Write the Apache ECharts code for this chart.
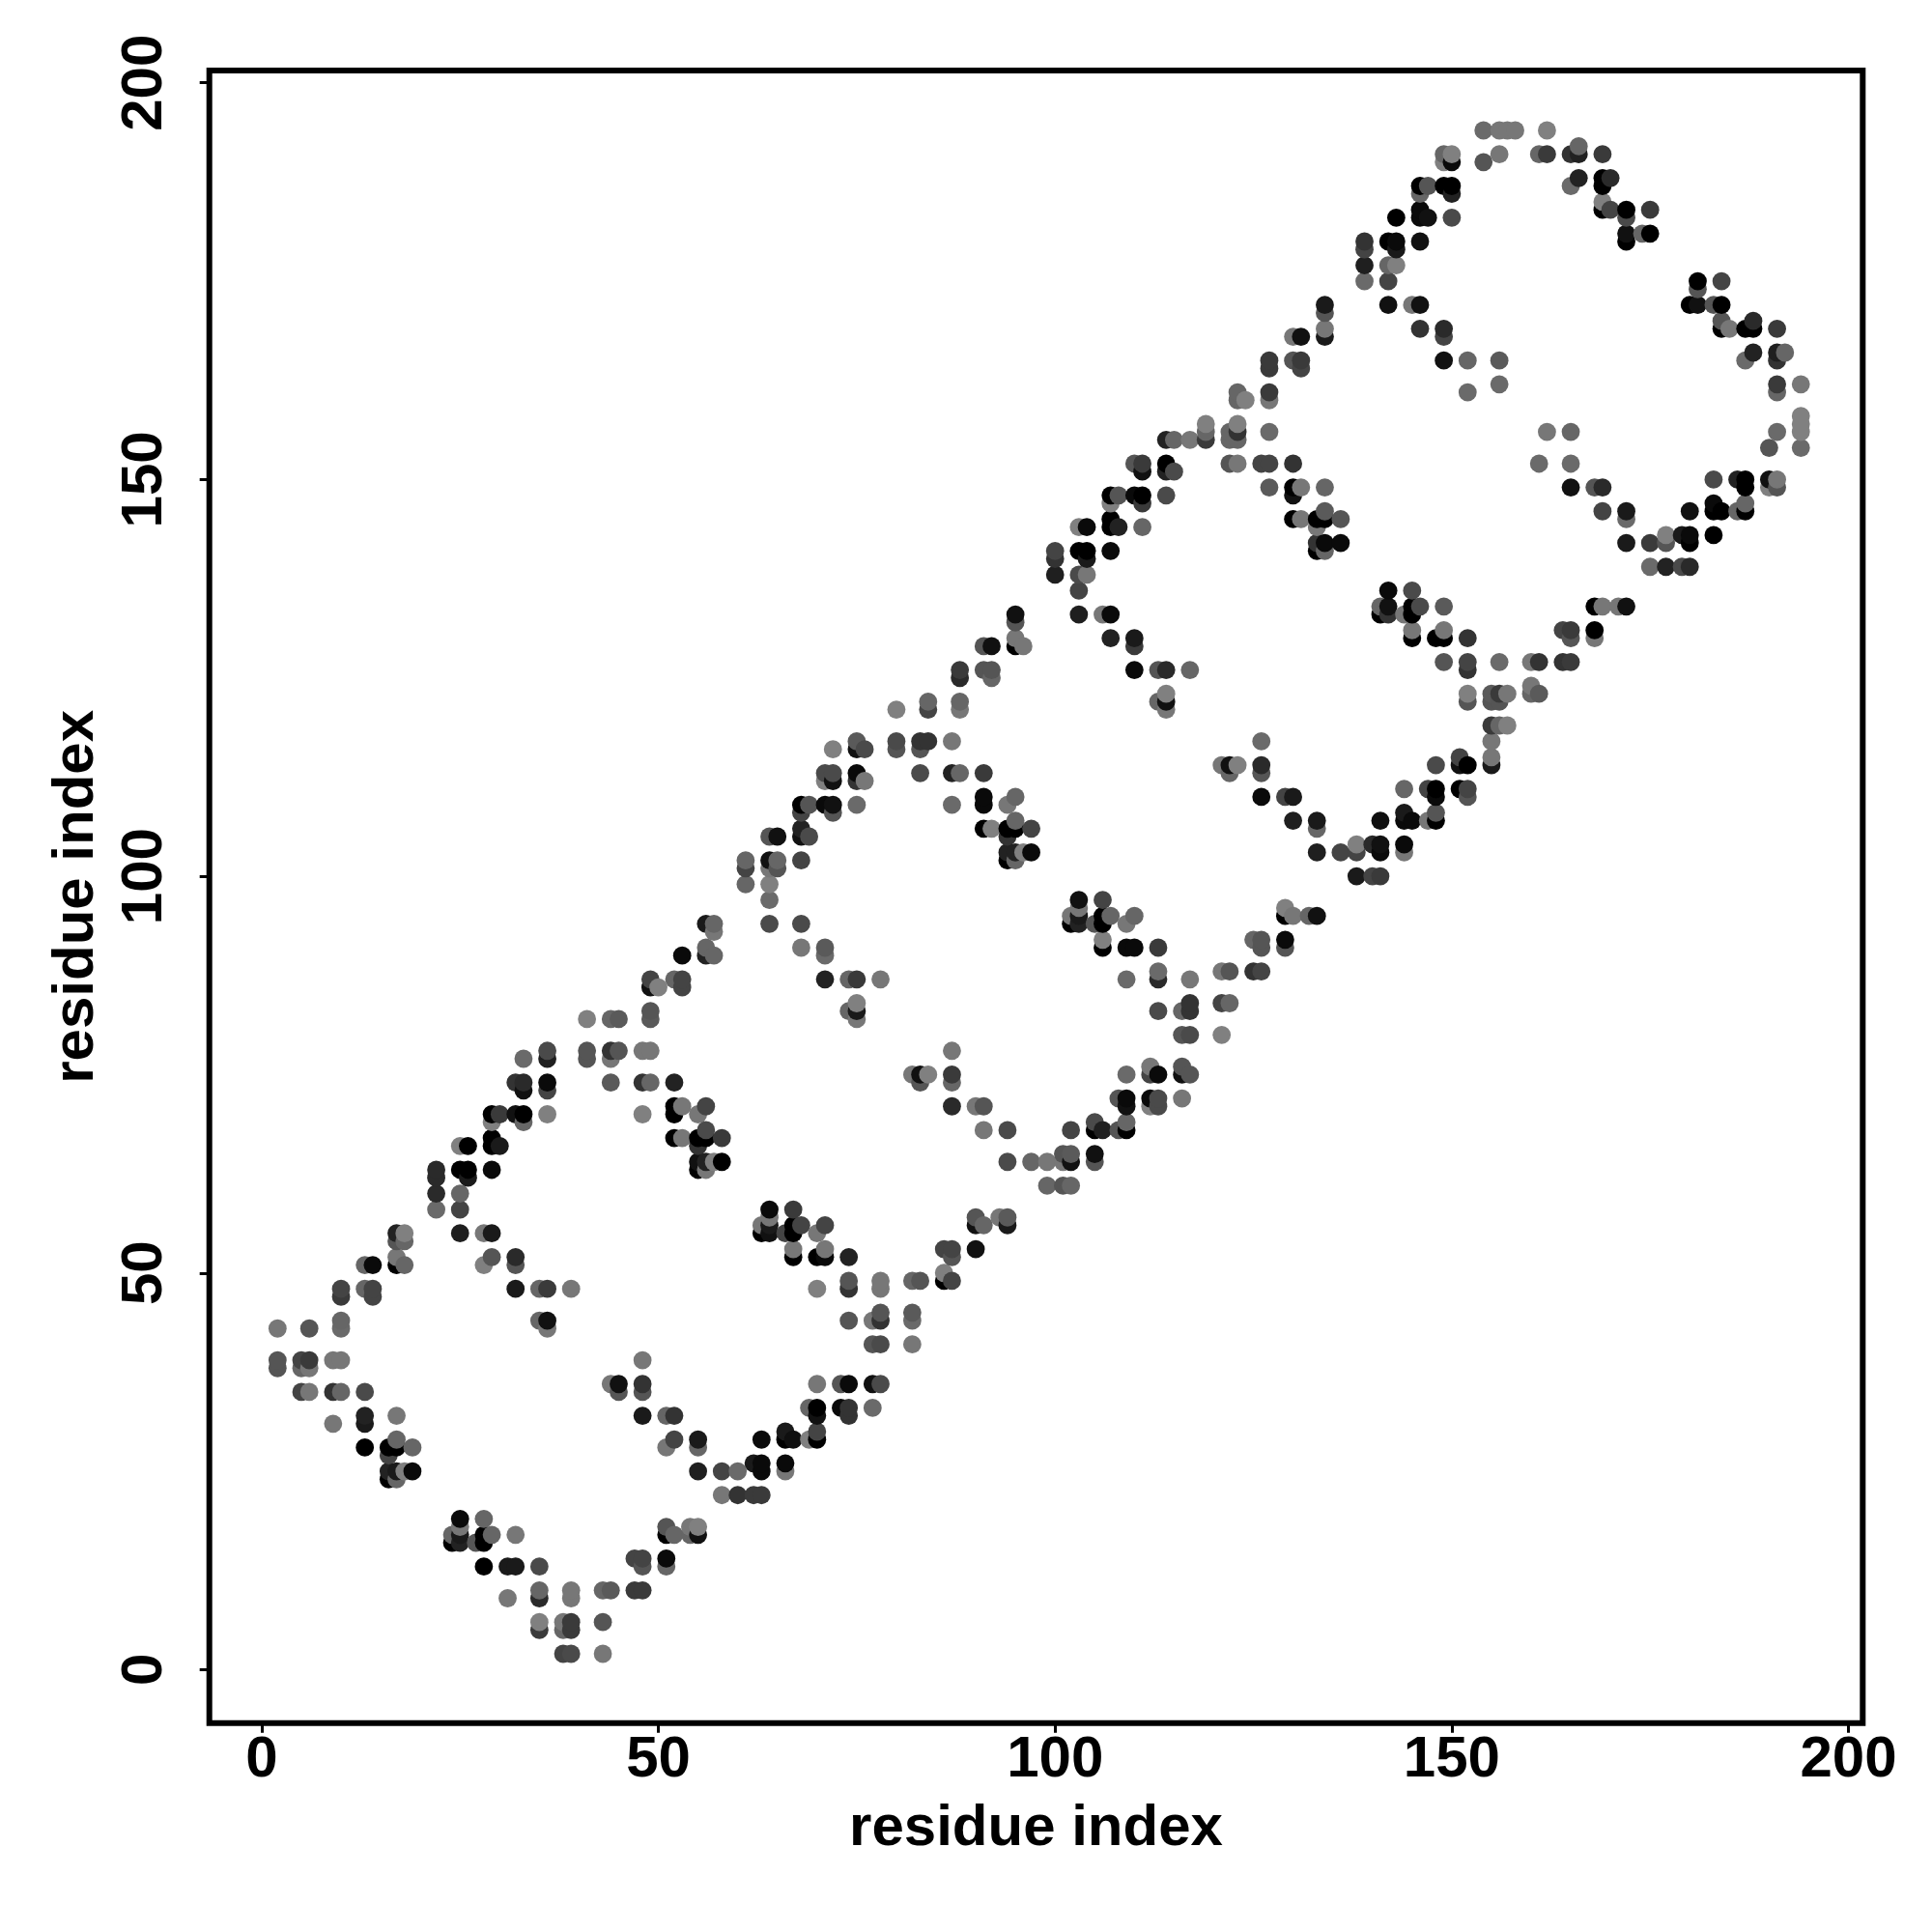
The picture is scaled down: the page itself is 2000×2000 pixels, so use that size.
<!DOCTYPE html>
<html>
<head>
<meta charset="utf-8">
<style>html,body{margin:0;padding:0;background:#fff}#c{width:2000px;height:2000px}</style>
<script src="https://cdn.jsdelivr.net/npm/echarts@6/dist/echarts.min.js"></script>
</head>
<body>
<div id="c"></div>
<script>
// Each contact: [residue x, residue y, grey level of the dot]
const contactsA = [
[2,43,119],[2,39,85],[2,38,85],[5,39,68],[5,38,102],[5,35,68],[6,43,85],[6,39,58],[6,38,119],[6,35,119],
[9,39,119],[9,35,51],[9,31,119],[10,48,68],[10,47,58],[10,44,102],[10,43,106],[10,39,119],[10,35,102],
[13,51,102],[13,48,102],[13,35,74],[13,32,34],[13,31,26],[13,28,0],[14,51,10],[14,48,68],[14,47,68],
[16,28,0],[16,27,68],[16,25,34],[16,24,0],[17,55,34],[17,54,85],[17,52,119],[17,51,0],[17,32,119],[17,29,102],[17,28,0],[17,25,26],[17,24,102],
[18,55,128],[18,54,102],[18,51,102],[18,25,128],[19,28,102],[19,25,10],
[22,63,42],[22,62,42],[22,60,42],[22,58,106],[24,17,102],[24,16,0],
[25,66,128],[25,63,0],[25,60,102],[25,58,68],[25,55,31],[25,19,10],[25,18,119],[25,17,26],[25,16,34],
[26,66,0],[26,63,0],[26,62,26],[27,16,85],[28,55,119],[28,51,128],[28,19,102],[28,17,0],[28,16,0],[28,13,0],
[29,70,0],[29,69,128],[29,67,0],[29,66,0],[29,63,10],[29,55,26],[29,52,85],[29,17,102],[30,70,58],[30,66,26]
];
const contactsB = [
[31,13,26],[31,9,119],[32,74,51],[32,70,17],[32,52,42],[32,51,85],[32,48,26],[32,17,119],[32,13,26],
[33,77,106],[33,74,42],[33,73,17],[33,70,0],[33,69,102],[35,48,102],[35,44,102],[35,13,74],[35,10,102],[35,9,42],[35,6,128],[35,5,58],
[36,78,74],[36,77,31],[36,74,10],[36,73,68],[36,70,128],[36,48,58],[36,44,17],[36,43,119],
[38,6,119],[38,5,102],[38,2,68],[39,48,119],[39,10,119],[39,9,119],[39,6,58],[39,5,58],[39,2,74],
[41,82,128],[41,78,85],[41,77,85],[43,10,102],[43,6,85],[43,2,119],[44,82,102],[44,78,51],[44,77,119],[44,74,90],[44,36,119],[44,10,90],
[45,82,90],[45,78,85],[45,36,17],[45,35,85],[47,14,68],[47,10,58],[48,78,119],[48,74,51],[48,70,128],[48,39,119],[48,36,51],[48,35,85],[48,32,26],[48,14,68],[48,13,85],[48,10,58],
[49,87,68],[49,86,17],[49,83,85],[49,82,90],[49,78,119],[49,74,102],[50,86,128],
[51,32,102],[51,28,119],[51,18,85],[51,17,0],[51,14,10],[51,13,102],
[52,87,102],[52,74,34],[52,71,0],[52,70,0],[52,67,0],[52,32,51],[52,29,68],[52,17,102],
[53,90,10],[53,87,68],[53,86,68],[53,71,119],[53,67,119],[54,18,119],[54,17,102],
[55,70,119],[55,67,0],[55,66,51],[55,64,17],[55,63,0],[55,29,26],[55,28,102],[55,25,31],[55,18,128],[55,17,17],
[56,94,26],[56,91,102],[56,90,34],[56,71,68],[56,68,74],[56,67,0],[56,64,34],[56,63,119],
[57,94,102],[57,93,119],[57,90,102],[57,64,128],[58,67,58],[58,64,0],[58,25,68],[58,22,119],[60,25,106],[60,22,51]
];
const contactsC = [
[61,102,102],[61,101,68],[61,99,102],[62,26,26],[62,22,58],[63,56,119],[63,55,0],[63,29,10],[63,26,10],[63,25,10],[63,22,58],
[64,105,85],[64,102,17],[64,101,119],[64,99,128],[64,97,106],[64,94,74],[64,58,10],[64,57,119],[64,56,26],[64,55,17],
[65,105,17],[65,102,102],[65,101,85],[66,55,68],[66,30,26],[66,29,0],[66,26,10],[66,25,119],
[67,58,58],[67,56,0],[67,55,0],[67,53,119],[67,52,0],[67,29,15],
[68,109,0],[68,108,68],[68,106,34],[68,105,17],[68,102,68],[68,94,74],[68,91,119],[68,56,68],
[69,109,85],[69,105,74],[69,33,102],[69,29,128],[70,55,119],[70,52,0],[70,48,128],[70,36,119],[70,33,0],[70,32,17],[70,30,68],[70,29,0],
[71,113,74],[71,112,128],[71,109,10],[71,91,90],[71,90,106],[71,87,34],[71,56,68],[71,53,119],[71,52,10],
[72,116,128],[72,113,74],[72,112,17],[72,109,17],[72,108,85],[73,36,85],[73,33,10],
[74,87,102],[74,83,102],[74,52,34],[74,49,85],[74,48,51],[74,44,85],[74,36,10],[74,33,51],[74,32,51],
[75,117,90],[75,116,17],[75,113,10],[75,112,51],[75,109,106],[75,87,58],[75,84,128],[75,83,26],[75,82,119],[76,116,74],[76,112,119],
[77,44,119],[77,41,85],[77,36,17],[77,33,106],[78,87,119],[78,49,119],[78,48,119],[78,45,85],[78,44,51],[78,41,74],[78,36,74],
[80,121,128],[80,117,74],[80,116,85],[82,75,119],[82,49,102],[82,45,90],[82,44,106],[82,41,119],
[83,117,51],[83,116,85],[83,113,74],[83,75,17],[83,74,85],[83,49,85],[84,122,102],[84,121,68],[84,117,51],[84,75,128],
[86,53,68],[86,50,128],[86,49,0],[87,117,119],[87,113,34],[87,109,106],[87,78,119],[87,75,58],[87,74,102],[87,71,42],[87,53,68],[87,52,85],[87,49,68],
[88,126,58],[88,125,42],[88,122,102],[88,121,119],[88,113,102],[90,71,119],[90,57,85],[90,56,17],[90,53,17]
];
const contactsD = [
[91,129,85],[91,126,85],[91,113,58],[91,110,10],[91,109,10],[91,106,0],[91,71,85],[91,68,119],[91,56,102],
[92,129,17],[92,126,85],[92,125,102],[92,106,128],[93,57,119],
[94,109,119],[94,106,0],[94,105,51],[94,103,34],[94,102,0],[94,68,74],[94,64,74],[94,57,90],[94,56,26],
[95,133,17],[95,132,85],[95,130,119],[95,129,0],[95,110,102],[95,107,102],[95,106,0],[95,103,34],[95,102,102],
[96,129,119],[96,103,128],[97,106,68],[97,103,10],[97,64,102],[99,64,119],[99,61,102],
[100,141,68],[100,140,51],[100,138,31],[101,65,85],[101,64,119],[101,61,85],[102,95,119],[102,94,0],[102,68,68],[102,65,90],[102,64,17],[102,61,102],
[103,144,128],[103,141,0],[103,138,74],[103,136,68],[103,133,31],[103,97,17],[103,96,119],[103,95,26],[103,94,34],
[104,144,10],[104,141,0],[104,140,26],[104,138,119],[105,94,85],[105,69,74],[105,68,0],[105,65,17],[105,64,85],
[106,133,119],[106,97,68],[106,95,0],[106,94,0],[106,92,128],[106,91,0],[106,68,31],
[107,148,0],[107,147,128],[107,145,0],[107,144,0],[107,141,10],[107,133,10],[107,130,34],[107,95,102],
[108,148,85],[108,144,34],[108,72,85],[108,68,85],[109,94,119],[109,91,10],[109,87,106],[109,75,106],[109,72,10],[109,71,17],[109,69,102],[109,68,0],
[110,152,85],[110,148,10],[110,130,26],[110,129,58],[110,126,10],[110,95,102],[110,91,10],
[111,152,58],[111,151,17],[111,148,0],[111,147,58],[111,144,102],[112,76,119],[112,75,68],[112,72,10],[112,71,128],
[113,126,85],[113,122,102],[113,91,58],[113,88,106],[113,87,42],[113,83,74],[113,75,10],[113,72,74],[113,71,74],
[114,155,34],[114,152,0],[114,151,34],[114,148,74],[114,126,42],[114,123,128],[114,122,17],[114,121,119],[115,155,102],[115,151,74],
[116,83,102],[116,80,85],[116,76,85],[116,75,17],[116,72,119],[117,155,119],[117,126,102],[117,87,119],[117,84,51],[117,83,51],[117,80,74],[117,75,85],
[119,157,128],[119,156,102],[119,155,58]
];
const contactsE = [
[121,114,119],[121,88,119],[121,84,68],[121,80,128],[122,156,102],[122,155,102],[122,152,85],[122,114,17],[122,113,102],[122,88,85],[122,84,102],
[123,161,102],[123,160,102],[123,157,128],[123,156,51],[123,155,102],[123,152,119],[123,114,128],[124,160,128],[125,92,102],[125,88,51],
[126,152,68],[126,117,106],[126,114,42],[126,113,85],[126,110,10],[126,92,85],[126,91,85],[126,88,68],
[127,165,58],[127,164,58],[127,161,58],[127,160,119],[127,156,106],[127,152,68],[127,149,90],
[129,110,68],[129,96,128],[129,95,0],[129,92,10],[129,91,85],[130,168,119],[130,165,85],[130,152,51],[130,149,0],[130,148,17],[130,145,0],[130,110,26],[130,107,31],[130,95,119],
[131,168,17],[131,165,58],[131,164,68],[131,149,119],[131,145,119],[132,95,102],
[133,145,0],[133,144,119],[133,142,51],[133,141,0],[133,107,26],[133,106,102],[133,103,31],[133,95,17],
[134,172,26],[134,171,85],[134,169,119],[134,168,26],[134,149,102],[134,146,90],[134,145,0],[134,142,10],[134,141,102],[136,145,85],[136,142,10],[136,103,68],
[138,104,128],[138,103,68],[138,100,26],[139,180,51],[139,179,68],[139,177,31],[139,175,106],[140,104,42],[140,100,68],
[141,134,102],[141,133,0],[141,107,15],[141,104,17],[141,103,10],[141,100,58],
[142,180,0],[142,177,102],[142,175,68],[142,172,17],[142,136,10],[142,134,17],[142,133,51],
[143,183,0],[143,180,10],[143,179,26],[143,177,128],[144,133,119],[144,111,102],[144,108,26],[144,107,10],[144,104,10],[144,103,119],
[145,172,119],[145,136,74],[145,134,0],[145,133,0],[145,131,119],[145,130,0],[145,107,10],
[146,187,0],[146,186,102],[146,184,10],[146,183,10],[146,180,17],[146,172,17],[146,169,51],[146,134,74],
[147,187,85],[147,183,17],[147,111,68],[147,107,119],[148,130,0],[148,114,74],[148,111,0],[148,110,10],[148,108,85],[148,107,0],
[149,191,102],[149,190,128],[149,187,0],[149,169,42],[149,168,68],[149,165,17],[149,134,90],[149,131,119],[149,130,0],[149,127,85],
[150,191,128],[150,190,10],[150,187,0],[150,186,34],[150,183,74]
];
const contactsF = [
[151,115,68],[151,114,17],[151,111,0],[152,165,102],[152,161,106],[152,130,51],[152,127,68],[152,126,51],[152,123,128],[152,122,85],[152,114,0],[152,111,68],[152,110,85],
[154,194,106],[154,190,85],[155,123,90],[155,122,85],[155,119,58],[155,117,119],[155,115,119],[155,114,26],
[156,194,119],[156,191,119],[156,165,90],[156,162,106],[156,127,106],[156,123,58],[156,122,85],[156,119,102],
[157,194,119],[157,123,119],[157,119,128],[158,194,119],[160,127,119],[160,124,119],[160,123,102],
[161,191,102],[161,152,106],[161,127,51],[161,123,90],[162,194,128],[162,191,58],[162,156,119],[164,131,68],[164,127,51],
[165,191,51],[165,187,106],[165,156,102],[165,152,106],[165,149,17],[165,131,58],[165,130,85],[165,127,58],
[166,192,102],[166,191,34],[166,188,34],[168,149,85],[168,134,0],[168,131,0],[168,130,119],
[169,191,58],[169,188,0],[169,187,0],[169,185,128],[169,184,0],[169,149,42],[169,146,68],[169,134,119],
[170,188,42],[170,184,68],[171,134,119],[172,184,0],[172,183,74],[172,181,17],[172,180,0],[172,146,26],[172,145,106],[172,142,26],[172,134,17],
[174,181,102],[175,184,58],[175,181,0],[175,142,58],[175,139,106],[177,143,128],[177,142,85],[177,139,34],[179,143,26],[179,139,74],
[180,172,0],[180,146,17],[180,143,10],[180,142,0],[180,139,42],[181,175,0],[181,174,85],[181,172,17],
[183,172,85],[183,150,74],[183,147,10],[183,146,0],[183,143,0],[184,175,68],[184,172,0],[184,170,85],[184,169,0],[184,146,0],[185,169,119],
[186,150,34],[186,146,102],[187,169,0],[187,165,106],[187,150,0],[187,149,0],[187,147,102],[187,146,0],[188,170,42],[188,169,0],[188,166,34],
[190,154,85],[190,150,17],[190,149,128],[191,169,58],[191,166,31],[191,165,51],[191,162,58],[191,161,102],[191,156,106],[191,150,119],[191,149,85],
[192,166,102],[194,162,119],[194,158,128],[194,157,128],[194,156,128],[194,154,106]
];
const tickValues = [0, 50, 100, 150, 200];
const axisTitle = 'residue index';

const contacts = [].concat(contactsA, contactsB, contactsC, contactsD, contactsE, contactsF)
  .sort((a, b) => a[0] - b[0] || a[1] - b[1]);

const font = '"Liberation Sans", Arial, sans-serif';
const axisCommon = {
  type: 'value', name: axisTitle, nameLocation: 'middle',
  nameTextStyle: { fontFamily: font, fontWeight: 'bold', fontSize: 60, color: '#000' },
  splitLine: { show: false }, axisLine: { show: false, onZero: false },
};
const chart = echarts.init(document.getElementById('c'), null, { renderer: 'canvas' });
chart.setOption({
  animation: false,
  backgroundColor: '#fff',
  grid: { left: 216.7, right: 71.7, top: 73, bottom: 216.3, show: true, borderColor: '#000', borderWidth: 6, backgroundColor: 'transparent' },
  xAxis: Object.assign({}, axisCommon, {
    min: -6.6, max: 201.8, nameGap: 80,
    axisTick: { show: true, length: 10, lineStyle: { width: 3, color: '#000' }, customValues: tickValues },
    axisLabel: { fontFamily: font, fontWeight: 'bold', fontSize: 60, color: '#000', margin: 9, customValues: tickValues },
  }),
  yAxis: Object.assign({}, axisCommon, {
    min: -6.73, max: 201.55, nameGap: 107,
    axisTick: { show: true, length: 10, lineStyle: { width: 3, color: '#000' }, customValues: tickValues },
    axisLabel: { fontFamily: font, fontWeight: 'bold', fontSize: 60, color: '#000', margin: 36, rotate: 90, customValues: tickValues },
  }),
  series: [{
    type: 'scatter', symbol: 'circle', symbolSize: 18.8, silent: true,
    data: contacts,
    encode: { x: 0, y: 1 },
    itemStyle: {
      opacity: 1,
      color: p => { const g = p.value[2]; return 'rgb(' + g + ',' + g + ',' + g + ')'; },
    },
  }],
});
</script>
</body>
</html>
